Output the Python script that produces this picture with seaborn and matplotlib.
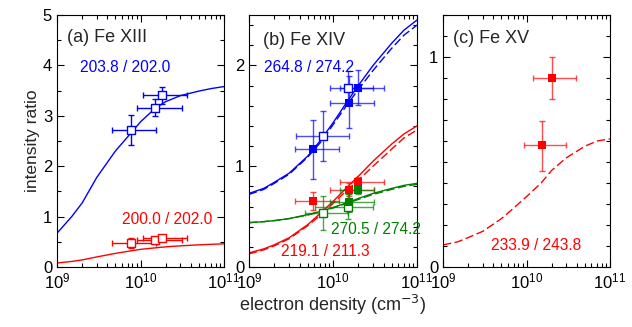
import numpy as np
import pandas as pd
import matplotlib
matplotlib.use("Agg")
import matplotlib.pyplot as plt
import seaborn as sns
from matplotlib.ticker import LogLocator, MultipleLocator, NullFormatter

sns.set_theme(style="ticks")
plt.rcParams['font.family'] = ['Liberation Sans', 'DejaVu Sans']

BLUE = "#0000ff"
RED = "#ff0000"
GREEN = "#008000"

# theoretical curves (density grid)
n_curve = [1e9, 1.5e9, 2e9, 3e9, 5e9, 7e9, 1e10, 1.5e10, 2e10, 3e10, 5e10, 7e10, 1e11]
a_blue_curve = [0.67, 1.00, 1.27, 1.78, 2.30, 2.58, 2.88, 3.15, 3.28, 3.40, 3.49, 3.54, 3.58]
a_red_curve = [0.08, 0.11, 0.14, 0.20, 0.27, 0.31, 0.35, 0.38, 0.40, 0.42, 0.44, 0.45, 0.46]
b_blue_solid = [0.73, 0.78, 0.84, 0.93, 1.10, 1.25, 1.43, 1.65, 1.80, 2.00, 2.22, 2.35, 2.45]
b_blue_dash = [0.72, 0.77, 0.83, 0.92, 1.09, 1.23, 1.41, 1.62, 1.76, 1.95, 2.17, 2.30, 2.40]
b_red_solid = [0.14, 0.18, 0.22, 0.29, 0.42, 0.53, 0.65, 0.80, 0.90, 1.05, 1.22, 1.32, 1.40]
b_red_dash = [0.13, 0.17, 0.21, 0.28, 0.41, 0.51, 0.63, 0.77, 0.86, 1.00, 1.17, 1.28, 1.36]
b_green_solid = [0.44, 0.45, 0.46, 0.48, 0.52, 0.55, 0.59, 0.64, 0.68, 0.73, 0.78, 0.81, 0.83]
b_green_dash = [0.44, 0.45, 0.46, 0.48, 0.515, 0.545, 0.585, 0.635, 0.67, 0.72, 0.77, 0.80, 0.82]
c_red_dash = [0.105, 0.12, 0.14, 0.17, 0.23, 0.28, 0.335, 0.40, 0.46, 0.52, 0.575, 0.60, 0.61]

# (a) Fe XIII observations
a_n = [7.7e9, 1.5e10, 1.8e10]
a_n_lo = [4.6e9, 9.0e9, 1.08e10]
a_n_hi = [1.53e10, 3.1e10, 3.65e10]
a_blue = [2.71, 3.16, 3.41]
a_blue_lo = [2.42, 2.99, 3.24]
a_blue_hi = [3.02, 3.34, 3.58]
a_red = [0.48, 0.53, 0.58]
a_red_lo = [0.38, 0.46, 0.53]
a_red_hi = [0.58, 0.60, 0.63]

# (b) Fe XIV observations
b_open_n = [7.7e9, 1.5e10]
b_open_n_lo = [3.6e9, 9.2e9]
b_open_n_hi = [1.55e10, 3.0e10]
b_fill_n = [5.8e9, 1.56e10, 2.0e10]
b_fill_n_lo = [3.5e9, 9.2e9, 1.2e10]
b_fill_n_hi = [1.18e10, 3.07e10, 4.0e10]
b_blue_open = [1.30, 1.78]
b_blue_open_lo = [1.05, 1.62]
b_blue_open_hi = [1.55, 1.94]
b_blue_fill = [1.17, 1.63, 1.78]
b_blue_fill_lo = [0.87, 1.38, 1.61]
b_blue_fill_hi = [1.46, 1.89, 1.95]
b_red_fill = [0.655, 0.764, 0.846]
b_red_fill_lo = [0.57, 0.70, 0.80]
b_red_fill_hi = [0.74, 0.83, 0.89]
b_green_open_n = [7.7e9, 1.5e10]
b_green_open_n_lo = [4.6e9, 6.1e9]
b_green_open_n_hi = [1.5e10, 3.0e10]
b_green_open = [0.54, 0.60]
b_green_open_lo = [0.37, 0.48]
b_green_open_hi = [0.70, 0.72]
b_green_fill_n = [1.56e10, 2.0e10]
b_green_fill_n_lo = [9.2e9, 1.2e10]
b_green_fill_n_hi = [3.07e10, 3.07e10]
b_green_fill = [0.64, 0.764]
b_green_fill_lo = [0.55, 0.72]
b_green_fill_hi = [0.72, 0.80]

# (c) Fe XV observations
c_n = [1.55e10, 2.0e10]
c_n_lo = [9.4e9, 1.21e10]
c_n_hi = [3.0e10, 3.97e10]
c_red = [0.58, 0.90]
c_red_lo = [0.457, 0.80]
c_red_hi = [0.697, 1.00]

fig = plt.figure(figsize=(6.32, 3.27), dpi=100)
W, H = 632, 327
def add_ax(x0, x1, y0=15, y1=267):
    return fig.add_axes([x0 / W, 1 - y1 / H, (x1 - x0) / W, (y1 - y0) / H])

axa = add_ax(57, 224)
axb = add_ax(249, 417)
axc = add_ax(443, 610)


def curve(ax, y, color, dashed=False):
    df = pd.DataFrame({"n": n_curve, "r": y})
    sns.lineplot(data=df, x="n", y="r", ax=ax, color=color, lw=1.0,
                 linestyle=(0, (6, 2.5)) if dashed else "-")


def points(ax, n, nlo, nhi, y, ylo, yhi, color, filled, alpha=1.0):
    n = np.array(n); y = np.array(y)
    xerr = [n - np.array(nlo), np.array(nhi) - n]
    yerr = [y - np.array(ylo), np.array(yhi) - y]
    ax.errorbar(n, y, xerr=xerr, yerr=yerr, fmt="none", ecolor=color,
                elinewidth=1.0, capsize=2.2, capthick=1.0, alpha=alpha, zorder=3)
    if filled:
        sns.scatterplot(x=n, y=y, ax=ax, marker="s", s=38, color=color,
                        edgecolor=color, linewidth=0, zorder=4)
    else:
        sns.scatterplot(x=n, y=y, ax=ax, marker="s", s=30, facecolor="white",
                        edgecolor=color, linewidth=1.0, zorder=4)


for ax in (axa, axb, axc):
    ax.set_xscale("log")

curve(axa, a_blue_curve, BLUE)
curve(axa, a_red_curve, RED)
points(axa, a_n, a_n_lo, a_n_hi, a_blue, a_blue_lo, a_blue_hi, BLUE, False)
points(axa, a_n, a_n_lo, a_n_hi, a_red, a_red_lo, a_red_hi, RED, False)

curve(axb, b_blue_solid, BLUE)
curve(axb, b_blue_dash, BLUE, True)
curve(axb, b_red_solid, RED)
curve(axb, b_red_dash, RED, True)
curve(axb, b_green_solid, GREEN)
curve(axb, b_green_dash, GREEN, True)
points(axb, b_open_n, b_open_n_lo, b_open_n_hi, b_blue_open, b_blue_open_lo, b_blue_open_hi, BLUE, False, 0.7)
points(axb, b_fill_n, b_fill_n_lo, b_fill_n_hi, b_blue_fill, b_blue_fill_lo, b_blue_fill_hi, BLUE, True, 0.7)
points(axb, b_green_open_n, b_green_open_n_lo, b_green_open_n_hi, b_green_open, b_green_open_lo, b_green_open_hi, GREEN, False, 0.7)
points(axb, b_fill_n, b_fill_n_lo, b_fill_n_hi, b_red_fill, b_red_fill_lo, b_red_fill_hi, RED, True, 0.7)
points(axb, b_green_fill_n, b_green_fill_n_lo, b_green_fill_n_hi, b_green_fill, b_green_fill_lo, b_green_fill_hi, GREEN, True, 0.7)

curve(axc, c_red_dash, RED, True)
points(axc, c_n, c_n_lo, c_n_hi, c_red, c_red_lo, c_red_hi, RED, True, 0.7)

ylims = [(0, 5, 1, 0.5), (0, 2.5, 1, 0.2), (0, 1.2, 1, 0.1)]
for ax, (y0, y1, maj, mnr) in zip((axa, axb, axc), ylims):
    ax.set_xlim(1e9, 1e11)
    ax.set_ylim(y0, y1)
    ax.yaxis.set_major_locator(MultipleLocator(maj))
    ax.yaxis.set_minor_locator(MultipleLocator(mnr))
    ax.xaxis.set_major_locator(LogLocator(base=10, numticks=5))
    ax.xaxis.set_minor_locator(LogLocator(base=10, subs=np.arange(2, 10), numticks=20))
    ax.xaxis.set_minor_formatter(NullFormatter())
    ax.tick_params(which="both", direction="in", top=True, right=True,
                   labelsize=12, colors="black", width=0.8)
    ax.tick_params(which="major", length=5)
    ax.tick_params(which="minor", length=3)
    ax.tick_params(axis="x", pad=3)
    ax.set_xlabel("")
    ax.set_ylabel("")
    for s in ax.spines.values():
        s.set_linewidth(0.8)
        s.set_color("black")

axa.set_ylabel("intensity ratio", fontsize=12.5, labelpad=2)
axb.set_xlabel("electron density (cm$^{-3}$)", fontsize=13, labelpad=1)

fs = 11.2
axa.text(0.06, 0.91, "(a) Fe XIII", transform=axa.transAxes, fontsize=13, va="center")
axa.text(0.14, 0.79, "203.8 / 202.0", transform=axa.transAxes, fontsize=fs, color=BLUE, va="center")
axa.text(0.93, 0.19, "200.0 / 202.0", transform=axa.transAxes, fontsize=fs, color=RED, va="center", ha="right")
axb.text(0.085, 0.897, "(b) Fe XIV", transform=axb.transAxes, fontsize=13, va="center")
axb.text(0.09, 0.79, "264.8 / 274.2", transform=axb.transAxes, fontsize=fs, color=BLUE, va="center")
axb.text(0.49, 0.147, "270.5 / 274.2", transform=axb.transAxes, fontsize=fs, color=GREEN, va="center")
axb.text(0.19, 0.06, "219.1 / 211.3", transform=axb.transAxes, fontsize=fs, color=RED, va="center")
axc.text(0.058, 0.905, "(c) Fe XV", transform=axc.transAxes, fontsize=13, va="center")
axc.text(0.285, 0.087, "233.9 / 243.8", transform=axc.transAxes, fontsize=fs, color=RED, va="center")

fig.savefig("out.png", dpi=100)
